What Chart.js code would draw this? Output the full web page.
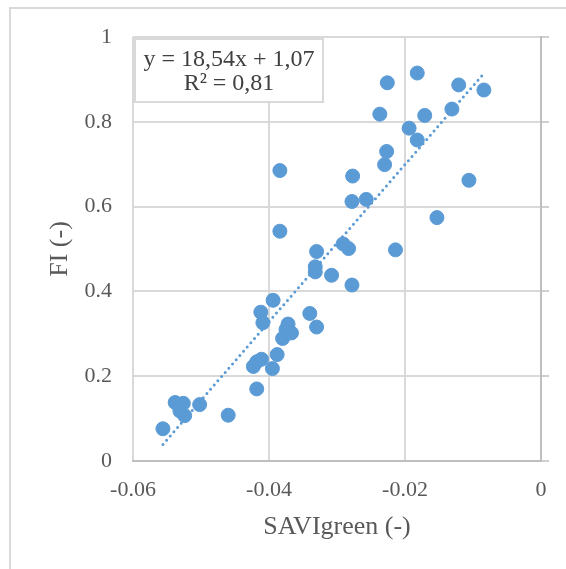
<!DOCTYPE html>
<html>
<head>
<meta charset="utf-8">
<title>FI vs SAVIgreen</title>
<script src="https://cdn.jsdelivr.net/npm/chart.js@4"></script>
<style>
  body { margin: 0; background: #fff; }
  #wrap { position: relative; width: 566px; height: 569px; overflow: hidden; }
  #frame { position: absolute; left: 9px; top: 7px; width: 620px; height: 620px; border: 2px solid #d9d9d9; }
  #grafico { position: absolute; left: 0; top: 0; }
</style>
</head>
<body>
<div id="wrap">
  <div id="frame"></div>
  <canvas id="grafico" width="566" height="569"></canvas>
</div>
<script>
// SAVIgreen (x) e FI (y) de cada amostra
const savi = [
  -0.0182, -0.0226, -0.0121, -0.0084, -0.0131, -0.0237, -0.0171, -0.0194,
  -0.0182, -0.0227, -0.0230, -0.0384, -0.0277, -0.0106, -0.0257, -0.0278,
  -0.0153, -0.0384, -0.0291, -0.0283, -0.0330, -0.0214, -0.0332, -0.0332,
  -0.0308, -0.0278, -0.0394, -0.0412, -0.0340, -0.0409, -0.0372, -0.0330,
  -0.0367, -0.0380, -0.0375, -0.0388, -0.0411, -0.0418, -0.0423, -0.0395,
  -0.0418, -0.0460, -0.0502, -0.0538, -0.0526, -0.0531, -0.0524, -0.0556
];
const fi = [
  0.915, 0.892, 0.887, 0.875, 0.830, 0.818, 0.815, 0.785,
  0.757, 0.730, 0.699, 0.685, 0.672, 0.662, 0.617, 0.612,
  0.574, 0.542, 0.512, 0.501, 0.494, 0.498, 0.458, 0.446,
  0.438, 0.415, 0.379, 0.351, 0.348, 0.326, 0.323, 0.316,
  0.302, 0.289, 0.310, 0.251, 0.240, 0.234, 0.223, 0.218,
  0.170, 0.108, 0.133, 0.138, 0.136, 0.118, 0.107, 0.076
];

// linha de tendência linear (coeficientes do rótulo)
const inclinacao = 18.54;
const intercepto = 1.07;
const textoEquacao = ['y = 18,54x + 1,07', 'R² = 0,81'];

const ticksX = [-0.06, -0.04, -0.02, 0];
const ticksY = [0, 0.2, 0.4, 0.6, 0.8, 1];

const azul = '#5B9BD5';
const grade = '#d9d9d9';
const fonte = "'Liberation Serif', 'Times New Roman', serif";

const pontos = savi.map((x, i) => ({ x: x, y: fi[i] }));
const xMin = Math.min(...savi);
const xMax = Math.max(...savi);
const tendencia = [xMin, xMax].map(x => ({ x: x, y: inclinacao * x + intercepto }));

// caixa com a equação, desenhada por cima do gráfico
const caixaEquacao = {
  id: 'caixaEquacao',
  afterDatasetsDraw(chart) {
    const ctx = chart.ctx;
    const x = 135, y = 39, w = 188, h = 63;
    ctx.save();
    ctx.fillStyle = '#fff';
    ctx.fillRect(x, y, w, h);
    ctx.strokeStyle = grade;
    ctx.lineWidth = 2;
    ctx.strokeRect(x, y, w, h);
    ctx.fillStyle = '#404040';
    ctx.font = '24px ' + fonte;
    ctx.textAlign = 'center';
    ctx.textBaseline = 'middle';
    ctx.fillText(textoEquacao[0], x + w / 2, 60);
    ctx.fillText(textoEquacao[1], x + w / 2, 84);
    ctx.restore();
  }
};

new Chart(document.getElementById('grafico'), {
  type: 'scatter',
  data: {
    datasets: [
      {
        label: 'Linear',
        type: 'line',
        data: tendencia,
        borderColor: azul,
        borderWidth: 3,
        borderDash: [0, 5.6],
        borderCapStyle: 'round',
        pointRadius: 0,
        fill: false,
        order: 0
      },
      {
        label: 'FI',
        data: pontos,
        backgroundColor: azul,
        borderColor: azul,
        pointRadius: 7,
        pointHoverRadius: 7,
        order: 1
      }
    ]
  },
  options: {
    responsive: false,
    animation: false,
    devicePixelRatio: 1,
    layout: { padding: { top: 37, left: 0, right: 0, bottom: 0 } },
    plugins: {
      legend: { display: false },
      tooltip: { enabled: false }
    },
    scales: {
      x: {
        type: 'linear',
        min: -0.06,
        max: 0,
        afterBuildTicks: axis => { axis.ticks = ticksX.map(v => ({ value: v })); },
        afterFit: axis => { axis.height = 108; },
        grid: { color: grade, lineWidth: 2, drawTicks: false },
        border: { color: '#bfbfbf', width: 2 },
        ticks: {
          padding: 16,
          color: '#595959',
          font: { family: fonte, size: 22 },
          callback: v => (v === 0 ? '0' : v.toFixed(2))
        },
        title: {
          display: true,
          text: 'SAVIgreen (-)',
          color: '#595959',
          font: { family: fonte, size: 26 },
          padding: { top: 0, bottom: 26 }
        }
      },
      y: {
        type: 'linear',
        position: 'left',
        min: 0,
        max: 1,
        afterBuildTicks: axis => { axis.ticks = ticksY.map(v => ({ value: v })); },
        afterFit: axis => { axis.width = 133; },
        grid: { color: grade, lineWidth: 2, drawTicks: false },
        border: { display: false },
        ticks: {
          padding: 21,
          color: '#595959',
          font: { family: fonte, size: 22 },
          callback: v => (v === 0 || v === 1 ? String(v) : v.toFixed(1))
        },
        title: {
          display: true,
          text: 'FI (-)',
          color: '#595959',
          font: { family: fonte, size: 26 },
          padding: { top: 45, bottom: 0 }
        }
      },
      // eixo vertical cruzando em x = 0, só com marcas para fora
      y2: {
        type: 'linear',
        position: 'right',
        min: 0,
        max: 1,
        afterBuildTicks: axis => { axis.ticks = ticksY.map(v => ({ value: v })); },
        afterFit: axis => { axis.width = 25; },
        grid: { drawOnChartArea: false, drawTicks: true, tickLength: 8, color: '#cfcfcf', lineWidth: 2 },
        border: { color: '#bfbfbf', width: 2 },
        ticks: { display: false }
      }
    }
  },
  plugins: [caixaEquacao]
});
</script>
</body>
</html>
